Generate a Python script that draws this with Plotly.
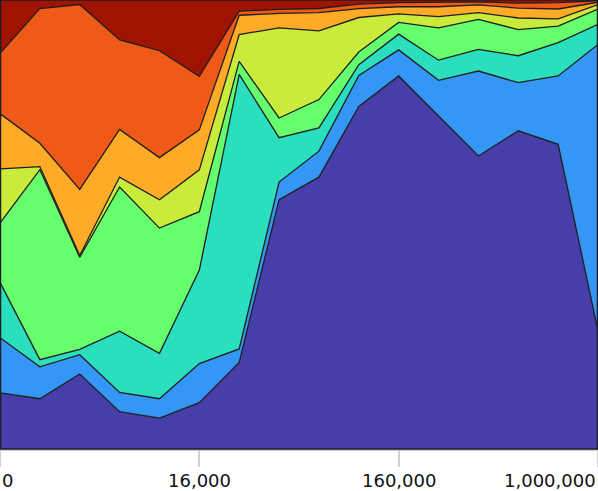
import plotly.graph_objects as go

# x positions (16 samples) and tick labels
x_idx = list(range(16))
tick_pos = [0, 5, 10, 15]
tick_labels = ["0", "16,000", "160,000", "1,000,000"]

# series values (percent share of each band, bottom to top)
s1 = [12.5, 11.2, 16.7, 8.3, 6.9, 10.3, 19.3, 55.6, 60.6, 76.3, 83.0, 74.1, 65.2, 70.8, 67.8, 26.3]
s2 = [12.3, 7.1, 4.3, 4.3, 4.3, 8.7, 3.0, 3.9, 5.8, 6.9, 5.8, 8.0, 18.9, 10.7, 15.2, 63.8]
s3 = [12.3, 1.6, 1.2, 13.6, 10.1, 20.8, 61.2, 9.9, 5.2, 2.4, 3.5, 4.5, 4.8, 6.0, 7.4, 4.5]
s4 = [13.2, 42.3, 20.5, 32.1, 27.9, 13.0, 2.9, 4.4, 6.3, 2.8, 2.6, 7.2, 6.7, 5.8, 3.7, 3.4]
s5 = [12.1, 0.7, 0.4, 2.2, 6.3, 9.3, 6.0, 20.1, 15.3, 7.7, 1.9, 2.5, 1.5, 2.6, 1.6, 1.0]
s6 = [12.3, 5.2, 14.7, 10.6, 9.4, 8.9, 4.3, 3.2, 4.1, 2.0, 1.6, 2.2, 1.7, 2.2, 2.2, 0.5]
s7 = [13.4, 30.0, 41.2, 19.9, 23.8, 11.9, 0.9, 0.9, 0.9, 1.0, 0.9, 1.0, 0.7, 1.1, 1.4, 0.3]
s8 = [11.9, 1.9, 1.0, 8.9, 11.3, 17.0, 2.5, 2.1, 1.9, 0.9, 0.6, 0.5, 0.4, 0.7, 0.6, 0.2]

series = [s1, s2, s3, s4, s5, s6, s7, s8]
colors = ["#463FAA", "#3597F5", "#2ADEBE", "#66FF6E", "#C8EB3C", "#FFAB28", "#F05A19", "#9E1400"]

fig = go.Figure()
for i, (vals, col) in enumerate(zip(series, colors)):
    fig.add_trace(go.Scatter(
        x=x_idx, y=vals, mode="lines", stackgroup="one", groupnorm="percent" if i == 0 else None,
        line=dict(color="#1e1e1e", width=1.3), fillcolor=col, showlegend=False,
        hoverinfo="skip",
    ))

annotations = []
anchors = ["left", "center", "center", "right"]
for pos, lab, anc in zip(tick_pos, tick_labels, anchors):
    annotations.append(dict(
        x=pos, y=0, xref="x", yref="paper", text=lab, showarrow=False,
        xanchor=anc, yanchor="middle", yshift=-31,
        font=dict(family="DejaVu Sans", size=18, color="#111"),
    ))

fig.update_layout(
    width=598, height=491,
    margin=dict(l=0, r=0, t=0, b=42),
    paper_bgcolor="white", plot_bgcolor="white",
    xaxis=dict(range=[0, 15], tickvals=tick_pos, showticklabels=False,
               ticks="outside", ticklen=16, tickcolor="#d0d0d0", tickwidth=2,
               showline=True, linecolor="#d0d0d0", linewidth=2,
               showgrid=False, zeroline=False, fixedrange=True),
    yaxis=dict(range=[0, 100], showticklabels=False, ticks="", showgrid=False,
               zeroline=False, showline=False, fixedrange=True),
    shapes=[
        dict(type="line", xref="paper", yref="paper", x0=0, x1=1, y0=0, y1=0,
             line=dict(color="#1e1e1e", width=1.3), layer="above"),
        dict(type="line", xref="paper", yref="paper", x0=0.001, x1=0.001, y0=0, y1=1,
             line=dict(color="#1e1e1e", width=1.3), layer="above"),
        dict(type="line", xref="paper", yref="paper", x0=0.999, x1=0.999, y0=0, y1=1,
             line=dict(color="#1e1e1e", width=1.3), layer="above"),
    ],
    annotations=annotations,
    showlegend=False,
)

fig.write_html("out.html", config={"displayModeBar": False},
               post_script="document.body.style.margin='0';document.body.style.overflow='hidden';")
